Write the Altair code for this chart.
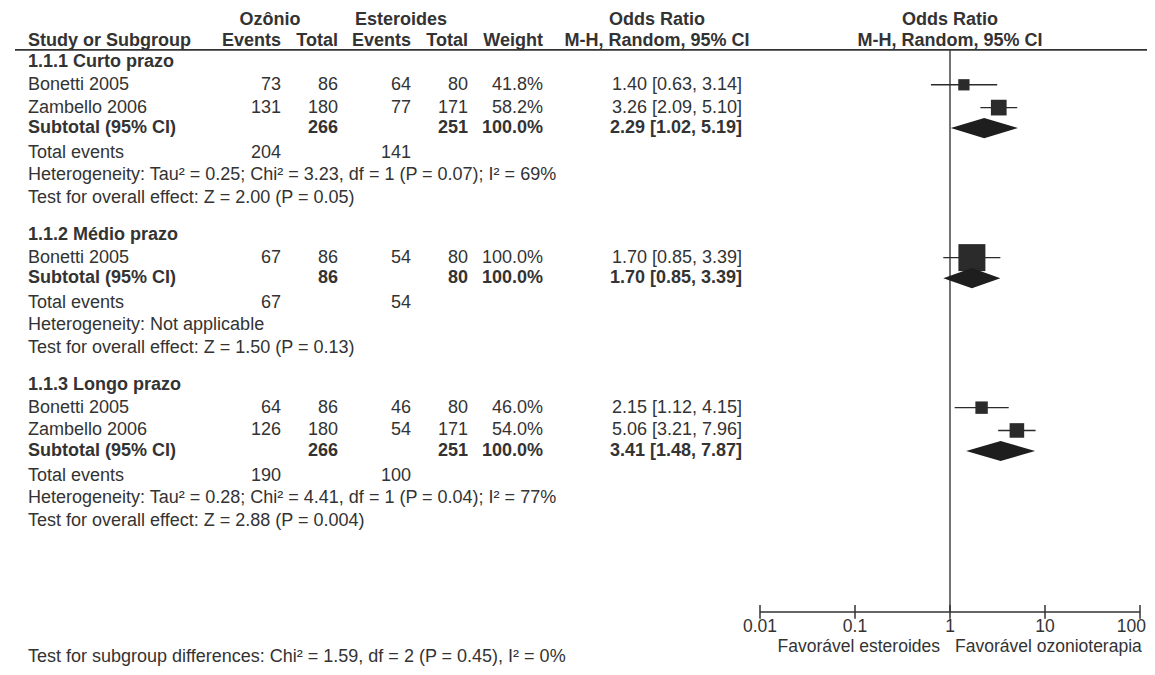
import altair as alt
import pandas as pd

# ---------------- data ----------------
section_titles = ["1.1.1 Curto prazo", "1.1.2 Médio prazo", "1.1.3 Longo prazo"]

study_section = [0, 0, 1, 2, 2]
study_names = ["Bonetti 2005", "Zambello 2006", "Bonetti 2005", "Bonetti 2005", "Zambello 2006"]
oz_events = [73, 131, 67, 64, 126]
oz_total = [86, 180, 86, 86, 180]
es_events = [64, 77, 54, 46, 54]
es_total = [80, 171, 80, 80, 171]
weights = [41.8, 58.2, 100.0, 46.0, 54.0]
or_est = [1.40, 3.26, 1.70, 2.15, 5.06]
or_lo = [0.63, 2.09, 0.85, 1.12, 3.21]
or_hi = [3.14, 5.10, 3.39, 4.15, 7.96]

sub_oz_total = [266, 86, 266]
sub_es_total = [251, 80, 251]
sub_weight = [100.0, 100.0, 100.0]
sub_est = [2.29, 1.70, 3.41]
sub_lo = [1.02, 0.85, 1.48]
sub_hi = [5.19, 3.39, 7.87]

tot_oz_events = [204, 67, 190]
tot_es_events = [141, 54, 100]

heterogeneity = [
    "Heterogeneity: Tau² = 0.25; Chi² = 3.23, df = 1 (P = 0.07); I² = 69%",
    "Heterogeneity: Not applicable",
    "Heterogeneity: Tau² = 0.28; Chi² = 4.41, df = 1 (P = 0.04); I² = 77%",
]
overall_effect = [
    "Test for overall effect: Z = 2.00 (P = 0.05)",
    "Test for overall effect: Z = 1.50 (P = 0.13)",
    "Test for overall effect: Z = 2.88 (P = 0.004)",
]
subgroup_test = "Test for subgroup differences: Chi² = 1.59, df = 2 (P = 0.45), I² = 0%"

axis_ticks = [0.01, 0.1, 1, 10, 100]
axis_tick_labels = ["0.01", "0.1", "1", "10", "100"]
favour_left = "Favorável esteroides"
favour_right = "Favorável ozonioterapia"

# ---------------- layout / style ----------------
FONT = "Liberation Sans"
FS = 18
FS_AX = 17.5
TXT = "#333333"
INK = "#2b2b2b"

W, H = 1139, 659
UNIT = 22.8
Y_TOP = 54.0
YS = alt.Scale(domain=[-Y_TOP / UNIT, (H - Y_TOP) / UNIT], reverse=True, nice=False, zero=False)
XS = alt.Scale(type="log", domain=[0.01, 100], range=[752, 1132], nice=False)

X_LEFT = 20
X_OZ_E, X_OZ_T = 273, 330
X_ES_E, X_ES_T = 403, 460
X_WT, X_ORT = 535, 734
X_OZ_HDR, X_ES_HDR, X_OR_HDR = 262, 393, 649

ROW_H1, ROW_H2, ROW_HLINE = -1.85, -0.92, -0.53
ROW_AXIS, ROW_TICKLAB, ROW_FAV, ROW_SUBTEST = 24.12, 24.78, 25.66, 26.1

# ---------------- tables ----------------
study_rows, sub_rows, tot_rows, info_rows, title_rows, diamond_rows = [], [], [], [], [], []
start = 0.0
for s in range(len(section_titles)):
    idx = [i for i, v in enumerate(study_section) if v == s]
    n = len(idx)
    title_rows.append({"row": start, "text": section_titles[s]})
    for k, i in enumerate(idx):
        study_rows.append({
            "row": start + 1 + k, "name": study_names[i],
            "oz_e": str(oz_events[i]), "oz_t": str(oz_total[i]),
            "es_e": str(es_events[i]), "es_t": str(es_total[i]),
            "weight": weights[i], "wtxt": f"{weights[i]:.1f}%",
            "est": or_est[i], "lo": or_lo[i], "hi": or_hi[i],
            "ortxt": f"{or_est[i]:.2f} [{or_lo[i]:.2f}, {or_hi[i]:.2f}]",
        })
    r_sub = start + n + 0.9
    sub_rows.append({
        "row": r_sub, "name": "Subtotal (95% CI)",
        "oz_t": str(sub_oz_total[s]), "es_t": str(sub_es_total[s]),
        "wtxt": f"{sub_weight[s]:.1f}%",
        "ortxt": f"{sub_est[s]:.2f} [{sub_lo[s]:.2f}, {sub_hi[s]:.2f}]",
    })
    half = 0.44
    for xv, yt, yb in [(sub_lo[s], r_sub, r_sub), (sub_est[s], r_sub - half, r_sub + half), (sub_hi[s], r_sub, r_sub)]:
        diamond_rows.append({"sec": s, "x": xv, "yt": yt, "yb": yb})
    r_tot = start + n + 1.98
    tot_rows.append({"row": r_tot, "name": "Total events",
                     "oz_e": str(tot_oz_events[s]), "es_e": str(tot_es_events[s])})
    info_rows.append({"row": start + n + 2.96, "text": heterogeneity[s]})
    info_rows.append({"row": start + n + 3.96, "text": overall_effect[s]})
    start = start + n + 3.96 + 1.62

info_rows.append({"row": ROW_SUBTEST, "text": subgroup_test})

studies = pd.DataFrame(study_rows)
subs = pd.DataFrame(sub_rows)
tots = pd.DataFrame(tot_rows)
infos = pd.DataFrame(info_rows)
titles = pd.DataFrame(title_rows)
diamonds = pd.DataFrame(diamond_rows)


def Y(field="row"):
    return alt.Y(f"{field}:Q", scale=YS, axis=None)


def txt(df, field, x, align="right", bold=False):
    return alt.Chart(df).mark_text(
        align=align, baseline="middle", font=FONT, fontSize=FS,
        fontWeight="bold" if bold else "normal", color=TXT,
    ).encode(x=alt.value(x), y=Y(), text=f"{field}:N")


def label(df, text, x, align, bold=True, size=FS):
    return alt.Chart(df).mark_text(align=align, baseline="middle", font=FONT, fontSize=size,
                                   fontWeight="bold" if bold else "normal", color=TXT,
                                   text=text).encode(x=alt.value(x), y=Y())


layers = []

# headers
hdr1 = pd.DataFrame({"row": [ROW_H1], "v": [1.0]})
hdr2 = pd.DataFrame({"row": [ROW_H2], "v": [1.0]})
layers.append(label(hdr1, "Ozônio", X_OZ_HDR, "center"))
layers.append(label(hdr1, "Esteroides", X_ES_HDR, "center"))
layers.append(label(hdr1, "Odds Ratio", X_OR_HDR, "center"))
layers.append(alt.Chart(hdr1).mark_text(align="center", baseline="middle", font=FONT, fontSize=FS,
                                       fontWeight="bold", color=TXT, text="Odds Ratio")
              .encode(x=alt.X("v:Q", scale=XS, axis=None), y=Y()))
for txtv, x, align in [("Study or Subgroup", X_LEFT, "left"), ("Events", X_OZ_E, "right"),
                       ("Total", X_OZ_T, "right"), ("Events", X_ES_E, "right"),
                       ("Total", X_ES_T, "right"), ("Weight", X_WT, "right"),
                       ("M-H, Random, 95% CI", X_OR_HDR, "center")]:
    layers.append(label(hdr2, txtv, x, align))
layers.append(alt.Chart(hdr2).mark_text(align="center", baseline="middle", font=FONT, fontSize=FS,
                                       fontWeight="bold", color=TXT, text="M-H, Random, 95% CI")
              .encode(x=alt.X("v:Q", scale=XS, axis=None), y=Y()))

# header underline
layers.append(alt.Chart(pd.DataFrame({"row": [ROW_HLINE]})).mark_rule(color="#333333", strokeWidth=1.6)
              .encode(x=alt.value(7), x2=alt.value(W), y=Y()))

# section titles
layers.append(txt(titles, "text", X_LEFT, "left", True))

# study rows
layers.append(txt(studies, "name", X_LEFT, "left"))
layers.append(txt(studies, "oz_e", X_OZ_E))
layers.append(txt(studies, "oz_t", X_OZ_T))
layers.append(txt(studies, "es_e", X_ES_E))
layers.append(txt(studies, "es_t", X_ES_T))
layers.append(txt(studies, "wtxt", X_WT))
layers.append(txt(studies, "ortxt", X_ORT))

# subtotal rows
layers.append(txt(subs, "name", X_LEFT, "left", True))
layers.append(txt(subs, "oz_t", X_OZ_T, bold=True))
layers.append(txt(subs, "es_t", X_ES_T, bold=True))
layers.append(txt(subs, "wtxt", X_WT, bold=True))
layers.append(txt(subs, "ortxt", X_ORT, bold=True))

# total events
layers.append(txt(tots, "name", X_LEFT, "left"))
layers.append(txt(tots, "oz_e", X_OZ_E))
layers.append(txt(tots, "es_e", X_ES_E))

# heterogeneity / overall effect / subgroup test
layers.append(txt(infos, "text", X_LEFT, "left"))

# vertical line of no effect
layers.append(alt.Chart(pd.DataFrame({"x": [1.0], "r1": [ROW_HLINE], "r2": [ROW_AXIS]}))
              .mark_rule(color="#444444", strokeWidth=1.5)
              .encode(x=alt.X("x:Q", scale=XS, axis=None), y=Y("r1"), y2="r2:Q"))

# CI lines
layers.append(alt.Chart(studies).mark_rule(color=INK, strokeWidth=1.4)
              .encode(x=alt.X("lo:Q", scale=XS, axis=None), x2="hi:Q", y=Y()))

# squares
layers.append(alt.Chart(studies).mark_square(filled=True, color=INK, opacity=1)
              .encode(x=alt.X("est:Q", scale=XS, axis=None), y=Y(),
                      size=alt.Size("weight:Q", scale=alt.Scale(type="pow", exponent=2, domain=[0, 100],
                                                                range=[0, 729]), legend=None)))

# diamonds
layers.append(alt.Chart(diamonds).mark_area(orient="vertical", color="#1e1e1e", opacity=1)
              .encode(x=alt.X("x:Q", scale=XS, axis=None), y=Y("yt"), y2="yb:Q", detail="sec:N"))

# x axis drawn from tick list
ticks = pd.DataFrame({"t": axis_ticks, "lab": axis_tick_labels,
                      "r1": [ROW_AXIS - 0.3] * len(axis_ticks),
                      "r2": [ROW_AXIS + 0.3] * len(axis_ticks),
                      "rl": [ROW_TICKLAB] * len(axis_ticks)})
layers.append(alt.Chart(pd.DataFrame({"a": [min(axis_ticks)], "b": [max(axis_ticks)], "r": [ROW_AXIS]}))
              .mark_rule(color="#333333", strokeWidth=1.5)
              .encode(x=alt.X("a:Q", scale=XS, axis=None), x2="b:Q", y=Y("r")))
layers.append(alt.Chart(ticks).mark_rule(color="#333333", strokeWidth=1.5)
              .encode(x=alt.X("t:Q", scale=XS, axis=None), y=Y("r1"), y2="r2:Q"))
layers.append(alt.Chart(ticks.iloc[:-1]).mark_text(align="center", baseline="middle", font=FONT,
                                                  fontSize=FS_AX, color=TXT)
              .encode(x=alt.X("t:Q", scale=XS, axis=None), y=Y("rl"), text="lab:N"))
layers.append(alt.Chart(ticks.iloc[-1:]).mark_text(align="right", baseline="middle", font=FONT,
                                                  fontSize=FS_AX, color=TXT, dx=6)
              .encode(x=alt.X("t:Q", scale=XS, axis=None), y=Y("rl"), text="lab:N"))

fav = pd.DataFrame({"row": [ROW_FAV]})
layers.append(label(fav, favour_left, 932, "right", bold=False, size=FS_AX))
layers.append(label(fav, favour_right, 947, "left", bold=False, size=FS_AX))

chart = alt.layer(*layers).properties(
    width=W, height=H, padding=0,
    autosize=alt.AutoSizeParams(type="fit", contains="padding"),
    background="white",
).configure_view(stroke=None)

chart.save("out.html", embed_options={"renderer": "svg", "actions": False})
